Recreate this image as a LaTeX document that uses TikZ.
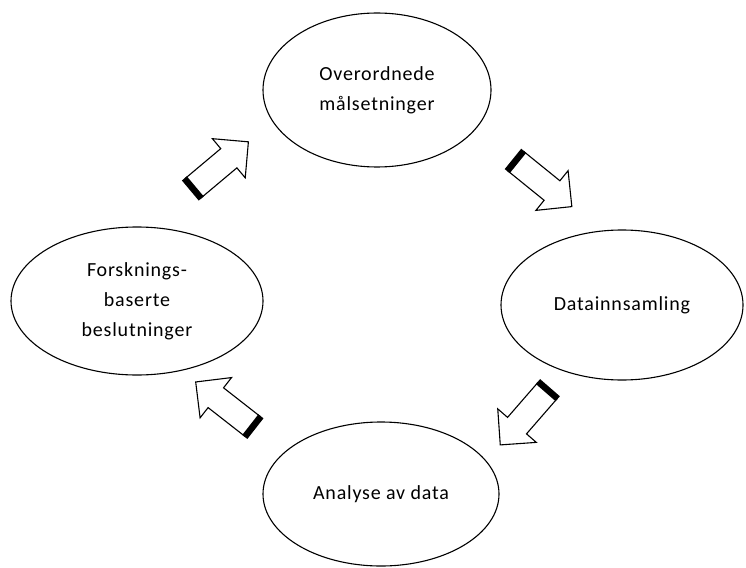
\documentclass[tikz,border=0pt]{standalone}
\usepackage{fontspec}
\setmainfont{Carlito}[LetterSpace=4]
\usetikzlibrary{shapes.geometric,shapes.arrows}
\tikzset{
  oval/.style={ellipse, draw, line width=1.1pt, inner sep=0pt, align=center,
    font=\fontsize{20}{30}\selectfont},
  blockarrow/.style={single arrow, draw, line width=1.1pt, inner sep=12pt,
    minimum height=72pt, single arrow head extend=13pt,
    single arrow head indent=0pt},
  tailband/.style={line width=6.5pt}
}
\begin{document}
\begin{tikzpicture}[x=1pt,y=-1pt]
\useasboundingbox (0,0) rectangle (746,567);
\node[oval, minimum width=228pt, minimum height=154pt] (top) at (377,90) {Overordnede\\målsetninger};
\node[oval, minimum width=242pt, minimum height=150pt] (right) at (622,305) {Datainnsamling};
\node[oval, minimum width=236pt, minimum height=144pt] (bottom) at (381,494) {Analyse av data};
\node[oval, minimum width=252pt, minimum height=148pt] (left) at (137,301) {Forsknings-\\baserte\\beslutninger};
\node[blockarrow, rotate=40] (a1) at (216,169) {};
\node[blockarrow, rotate=-39] (a2) at (539,180) {};
\node[blockarrow, rotate=-131] (a3) at (528,413) {};
\node[blockarrow, rotate=142] (a4) at (229,408) {};
\foreach \a in {a1,a2,a3,a4}{
  \draw[tailband] (\a.before tail) -- (\a.after tail);
}
\end{tikzpicture}
\end{document}
